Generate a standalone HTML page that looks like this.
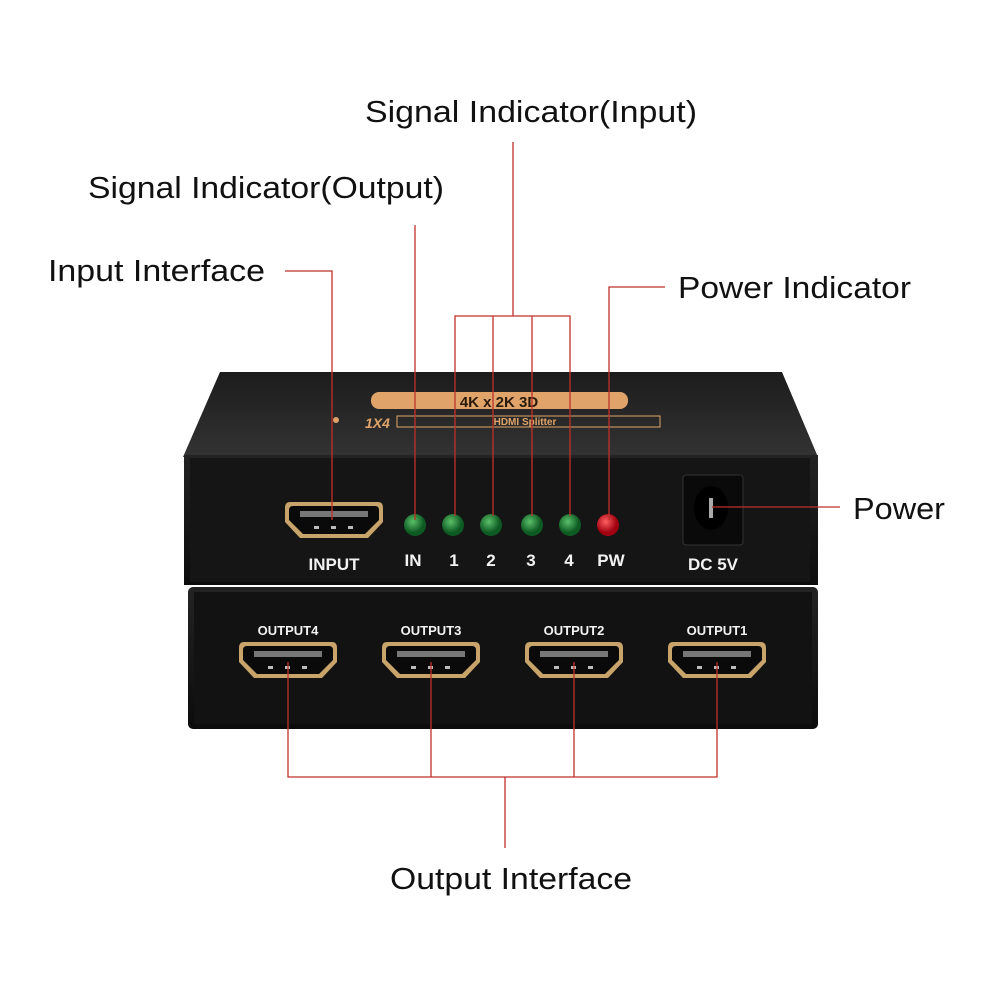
<!DOCTYPE html>
<html><head><meta charset="utf-8"><style>
body{margin:0;background:#fff}
svg{display:block}
.lbl{font-family:"Liberation Sans",sans-serif;font-size:31px;fill:#111}
.w{font-family:"Liberation Sans",sans-serif;font-weight:bold;fill:#f2f2f2}
</style></head><body>
<svg width="1000" height="1000" viewBox="0 0 1000 1000" xmlns="http://www.w3.org/2000/svg">
<defs>
<linearGradient id="top" x1="0" y1="0" x2="0" y2="1"><stop offset="0" stop-color="#1c1c1c"/><stop offset="1" stop-color="#333"/></linearGradient>
<linearGradient id="front" x1="0" y1="0" x2="0" y2="1"><stop offset="0" stop-color="#232323"/><stop offset="1" stop-color="#0c0c0c"/></linearGradient>
<radialGradient id="g" cx="0.4" cy="0.35"><stop offset="0" stop-color="#5bc06a"/><stop offset="1" stop-color="#0d5a22"/></radialGradient>
<radialGradient id="r" cx="0.4" cy="0.35"><stop offset="0" stop-color="#ff6060"/><stop offset="1" stop-color="#a00010"/></radialGradient>
<g id="hdmi">
<path d="M-44,-18 L44,-18 Q49,-18 49,-12 L49,2 L34,18 L-34,18 L-49,2 L-49,-12 Q-49,-18 -44,-18 Z" fill="#c9a46a"/>
<path d="M-41,-14 L41,-14 Q45,-14 45,-10 L45,0 L31,14 L-31,14 L-45,0 L-45,-10 Q-45,-14 -41,-14 Z" fill="#0a0a0a"/>
<rect x="-34" y="-9" width="68" height="6" fill="#777"/>
<rect x="-20" y="6" width="5" height="3" fill="#bbb"/><rect x="-3" y="6" width="5" height="3" fill="#bbb"/><rect x="14" y="6" width="5" height="3" fill="#bbb"/>
</g>
</defs>
<path d="M220,372 L782,372 L818,457 L183,457 Z" fill="url(#top)"/>
<rect x="371" y="392" width="257" height="17" rx="8" fill="#e0a46a"/>
<text x="499" y="407" text-anchor="middle" font-family="Liberation Sans" font-weight="bold" font-size="15" fill="#2a1a0a">4K x 2K 3D</text>
<text x="365" y="428" font-family="Liberation Sans" font-style="italic" font-weight="bold" font-size="14" fill="#e0a46a">1X4</text>
<rect x="397" y="416" width="263" height="11" fill="none" stroke="#e0a46a"/>
<text x="525" y="425" text-anchor="middle" font-family="Liberation Sans" font-weight="bold" font-size="10" fill="#e0a46a">HDMI Splitter</text>
<circle cx="336" cy="420" r="3" fill="#e0a46a"/>
<rect x="184" y="455" width="634" height="130" fill="url(#front)"/>
<rect x="190" y="458" width="620" height="124" fill="#151515"/>
<rect x="188" y="587" width="630" height="142" rx="5" fill="url(#front)"/>
<rect x="194" y="592" width="618" height="132" fill="#121212"/>
<use href="#hdmi" x="334" y="520"/>
<use href="#hdmi" x="288" y="660"/>
<use href="#hdmi" x="431" y="660"/>
<use href="#hdmi" x="574" y="660"/>
<use href="#hdmi" x="717" y="660"/>
<text class="w" x="334" y="570" text-anchor="middle" font-size="17">INPUT</text>
<text class="w" x="288" y="635" text-anchor="middle" font-size="13">OUTPUT4</text>
<text class="w" x="431" y="635" text-anchor="middle" font-size="13">OUTPUT3</text>
<text class="w" x="574" y="635" text-anchor="middle" font-size="13">OUTPUT2</text>
<text class="w" x="717" y="635" text-anchor="middle" font-size="13">OUTPUT1</text>
<circle cx="415" cy="525" r="11" fill="url(#g)"/>
<circle cx="453" cy="525" r="11" fill="url(#g)"/>
<circle cx="491" cy="525" r="11" fill="url(#g)"/>
<circle cx="532" cy="525" r="11" fill="url(#g)"/>
<circle cx="570" cy="525" r="11" fill="url(#g)"/>
<circle cx="608" cy="525" r="11" fill="url(#r)"/>
<g class="w" font-size="17" text-anchor="middle">
<text x="413" y="566">IN</text><text x="454" y="566">1</text><text x="491" y="566">2</text><text x="531" y="566">3</text><text x="569" y="566">4</text><text x="611" y="566">PW</text>
<text x="713" y="570">DC 5V</text></g>
<rect x="683" y="475" width="60" height="70" rx="3" fill="#0a0a0a" stroke="#333"/>
<ellipse cx="711" cy="508" rx="17" ry="22" fill="#000"/>
<rect x="709" y="498" width="4" height="20" fill="#aaa"/>
<g stroke="#c0302a" stroke-width="1.3" fill="none">
<path d="M285,271 H332 V520"/>
<path d="M415,225 V520"/>
<path d="M513,142 V316 M455,516 V316 H570 V516 M493,316 V516 M532,316 V516"/>
<path d="M665,287 H609 V520"/>
<path d="M712,507 H840"/>
<path d="M288,662 V777 H717 V662 M431,662 V777 M574,662 V777 M505,777 V848"/>
</g>
<text class="lbl" x="365" y="122" textLength="332" lengthAdjust="spacingAndGlyphs">Signal Indicator(Input)</text>
<text class="lbl" x="88" y="198" textLength="356" lengthAdjust="spacingAndGlyphs">Signal Indicator(Output)</text>
<text class="lbl" x="48" y="281" textLength="217" lengthAdjust="spacingAndGlyphs">Input Interface</text>
<text class="lbl" x="678" y="298" textLength="233" lengthAdjust="spacingAndGlyphs">Power Indicator</text>
<text class="lbl" x="853" y="519" textLength="92" lengthAdjust="spacingAndGlyphs">Power</text>
<text class="lbl" x="390" y="889" textLength="242" lengthAdjust="spacingAndGlyphs">Output Interface</text>
</svg>
</body></html>
